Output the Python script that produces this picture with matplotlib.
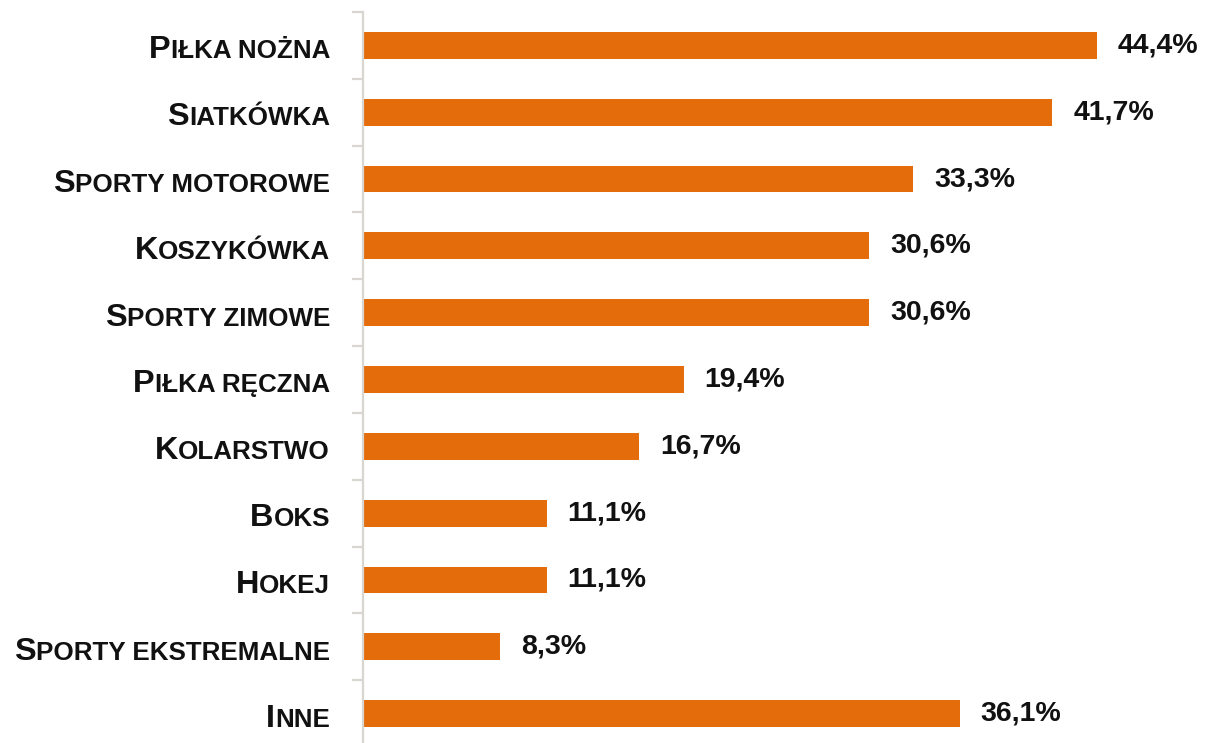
import matplotlib.pyplot as plt

categories = ['Piłka nożna', 'Siatkówka', 'Sporty motorowe', 'Koszykówka',
              'Sporty zimowe', 'Piłka ręczna', 'Kolarstwo', 'Boks', 'Hokej',
              'Sporty ekstremalne', 'Inne']
values = [44.4, 41.7, 33.3, 30.6, 30.6, 19.4, 16.7, 11.1, 11.1, 8.3, 36.1]
value_labels = ['44,4%', '41,7%', '33,3%', '30,6%', '30,6%', '19,4%',
                '16,7%', '11,1%', '11,1%', '8,3%', '36,1%']

W, H = 1207, 743
fig = plt.figure(figsize=(W / 100, H / 100), dpi=100)
plt.rcParams['font.family'] = ['Liberation Sans', 'DejaVu Sans']

# axes placed in pixel terms (bottom runs slightly past the picture edge)
left_px, top_px, bottom_px = 363, 12, -4
ax = fig.add_axes([left_px / W, bottom_px / H, (W - left_px) / W,
                   (H - top_px - bottom_px) / H])

px_per_unit = (1097 - 363) / 44.4
ax.set_xlim(0, (W - left_px) / px_per_unit)
n = len(categories)
ax.set_ylim(n - 0.5, -0.5)

bar_color = '#E46C0A'
ax.barh(range(n), values, height=0.40, color=bar_color)

for sp in ['top', 'right', 'bottom']:
    ax.spines[sp].set_visible(False)
ax.spines['left'].set_color('#D9D5D0')
ax.spines['left'].set_linewidth(1.6)
ax.set_xticks([])
ax.set_yticks([i - 0.5 for i in range(n + 1)])
ax.set_yticklabels([])
ax.tick_params(axis='y', direction='out', length=8, width=1.6, color='#D9D5D0')

txt_color = '#111111'
pt = 0.72  # points per pixel at 100 dpi

# value labels
for i, (v, lab) in enumerate(zip(values, value_labels)):
    ax.annotate(lab, xy=(v, i), xytext=(21 * pt, 0), textcoords='offset points',
                ha='left', va='center', fontsize=20.5, fontweight='bold',
                color=txt_color)

# category labels in small caps: large first letter + smaller uppercase rest
big, small = 23.4, 18.7
fig.canvas.draw()
renderer = fig.canvas.get_renderer()
for i, cat in enumerate(categories):
    rest = ax.annotate(cat[1:].upper(), xy=(0, i), xycoords=('axes fraction', 'data'),
                       xytext=(-33 * pt, -13 * pt), textcoords='offset points',
                       ha='right', va='baseline', fontsize=small,
                       fontweight='bold', color=txt_color)
    w = rest.get_window_extent(renderer).width
    ax.annotate(cat[0], xy=(0, i), xycoords=('axes fraction', 'data'),
                xytext=((-33 - w) * pt, -13 * pt), textcoords='offset points',
                ha='right', va='baseline', fontsize=big,
                fontweight='bold', color=txt_color)

fig.savefig('out.png', dpi=100)
